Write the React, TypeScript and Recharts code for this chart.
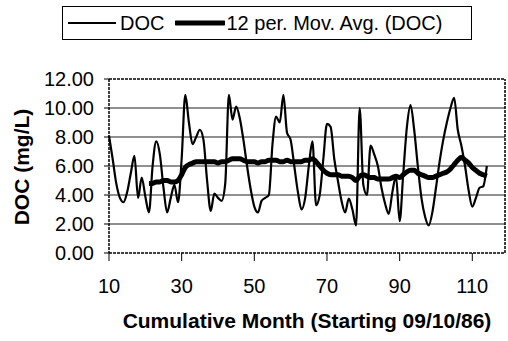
import { LineChart, Line, XAxis, YAxis, ReferenceLine, Legend } from "recharts";

const months = [
  10, 11, 12, 13, 14, 15, 16, 17, 18, 19,
  20, 21, 22, 23, 24, 25, 26, 27, 28, 29,
  30, 31, 32, 33, 34, 35, 36, 37, 38, 39,
  40, 41, 42, 43, 44, 45, 46, 47, 48, 49,
  50, 51, 52, 53, 54, 55, 56, 57, 58, 59,
  60, 61, 62, 63, 64, 65, 66, 67, 68, 69,
  70, 71, 72, 73, 74, 75, 76, 77, 78, 79,
  80, 81, 82, 83, 84, 85, 86, 87, 88, 89,
  90, 91, 92, 93, 94, 95, 96, 97, 98, 99,
  100, 101, 102, 103, 104, 105, 106, 107, 108, 109,
  110, 111, 112, 113, 114,
];

const doc = [
  8.1, 6.5, 4.8, 3.8, 3.5, 4.2, 5.5, 6.7, 3.8, 5.2,
  3.9, 2.8, 6.0, 7.7, 6.8, 4.5, 2.8, 3.8, 4.7, 3.5,
  6.5, 10.9, 9.0, 7.5, 8.0, 8.5, 7.8, 5.0, 2.9, 4.1,
  3.8, 3.6, 4.8, 10.9, 9.2, 10.1, 9.3, 7.8, 6.0, 4.4,
  3.2, 2.8, 3.6, 3.8, 4.0, 7.5, 9.4, 9.0, 10.9, 8.3,
  7.8, 6.0, 4.2, 3.0, 3.8, 6.0, 7.7, 3.3, 4.0, 6.5,
  8.9, 8.7, 6.5, 5.0, 3.6, 2.8, 3.75, 3.0, 1.9, 10.0,
  4.7, 4.0, 7.4, 6.8, 6.0, 4.5, 3.4, 2.7, 4.2, 5.3,
  2.2, 5.5, 8.7, 10.2, 8.5, 6.0, 3.8, 2.5, 1.9, 2.8,
  4.5, 6.3, 7.8, 9.0, 10.0, 10.7, 8.5, 7.4, 6.0, 4.3,
  3.2, 3.8, 4.5, 4.6, 6.0,
];

// 12 period moving average, nothing before month 21
const movAvg = [
  null, null, null, null, null, null, null, null, null, null,
  null, 4.8, 4.8, 4.9, 4.9, 5.0, 5.0, 4.9, 4.9, 5.0,
  5.4, 5.9, 6.1, 6.2, 6.3, 6.3, 6.3, 6.3, 6.3, 6.3,
  6.2, 6.3, 6.3, 6.4, 6.5, 6.5, 6.5, 6.4, 6.3, 6.3,
  6.3, 6.2, 6.3, 6.3, 6.4, 6.4, 6.4, 6.3, 6.3, 6.4,
  6.3, 6.3, 6.3, 6.3, 6.4, 6.4, 6.5, 6.3, 6.0, 5.7,
  5.5, 5.4, 5.4, 5.4, 5.3, 5.3, 5.3, 5.2, 5.0, 5.3,
  5.4, 5.3, 5.2, 5.2, 5.1, 5.1, 5.1, 5.1, 5.2, 5.3,
  5.2, 5.4, 5.6, 5.7, 5.7, 5.5, 5.4, 5.3, 5.2, 5.2,
  5.3, 5.4, 5.5, 5.6, 5.8, 6.1, 6.4, 6.6, 6.4, 6.2,
  5.9, 5.7, 5.5, 5.4, 5.3,
];

const xTicks = [10, 30, 50, 70, 90, 110];
const yTicks = [0, 2, 4, 6, 8, 10, 12];
const gridValues = [2, 4, 6, 8, 10];

const data = months.map((m, i) => ({ month: m, doc: doc[i], avg: movAvg[i] }));

const FONT = "'Liberation Sans', Arial, sans-serif";

const LegendBox = () => (
  <div
    style={{
      display: "flex",
      alignItems: "center",
      border: "1.5px solid #000",
      width: 410,
      height: 34,
      boxSizing: "border-box",
      fontFamily: FONT,
      fontSize: 20,
      color: "#000",
      paddingLeft: 5,
      background: "#fff",
    }}
  >
    <svg width={48} height={10}>
      <line x1={0} y1={5} x2={48} y2={5} stroke="#000" strokeWidth={2} />
    </svg>
    <span style={{ marginLeft: 4 }}>DOC</span>
    <svg width={50} height={10} style={{ marginLeft: 11 }}>
      <line x1={1} y1={5} x2={49} y2={5} stroke="#000" strokeWidth={5} strokeLinecap="round" />
    </svg>
    <span style={{ marginLeft: 1 }}>12 per. Mov. Avg. (DOC)</span>
  </div>
);

export default function App() {
  return (
    <div style={{ position: "absolute", left: 0, top: 0, width: 508, height: 341, background: "#fff" }}>
      <LineChart
        width={508}
        height={341}
        data={data}
        margin={{ top: 79, right: 3, bottom: 0, left: 0 }}
        style={{ fontFamily: FONT }}
      >
        {gridValues.map((v) => (
          <ReferenceLine key={v} y={v} stroke="#222" strokeWidth={1.2} />
        ))}
        <ReferenceLine y={12} stroke="#000" strokeWidth={1.5} strokeDasharray="3 1" />
        <ReferenceLine x={119} stroke="#000" strokeWidth={1.5} strokeDasharray="3 1" />
        <XAxis
          dataKey="month"
          type="number"
          domain={[10, 119]}
          ticks={xTicks}
          height={88}
          tickSize={8}
          tickMargin={18}
          tick={{ fill: "#000", fontSize: 20 }}
          axisLine={{ stroke: "#000", strokeWidth: 1.5, strokeDasharray: "3 1" }}
          tickLine={{ stroke: "#000" }}
          label={{
            value: "Cumulative Month (Starting 09/10/86)",
            position: "insideBottom",
            offset: 13,
            fill: "#000",
            fontSize: 21,
            fontWeight: "bold",
          }}
        />
        <YAxis
          type="number"
          domain={[0, 12]}
          ticks={yTicks}
          width={109}
          tickSize={5}
          tickMargin={10}
          tickFormatter={(v: number) => v.toFixed(2)}
          tick={{ fill: "#000", fontSize: 20 }}
          axisLine={{ stroke: "#000", strokeWidth: 1.5, strokeDasharray: "3 1" }}
          tickLine={{ stroke: "#000" }}
          label={{
            content: () => (
              <text
                x={21}
                y={167}
                transform="rotate(-90 21 167)"
                textAnchor="middle"
                dominantBaseline="central"
                fontSize={21}
                fontWeight="bold"
                fill="#000"
              >
                DOC (mg/L)
              </text>
            ),
          }}
        />
        <Legend
          layout="horizontal"
          verticalAlign="middle"
          align="center"
          wrapperStyle={{ top: 6, left: 62, width: "auto" }}
          content={() => <LegendBox />}
        />
        <Line
          type="monotone"
          dataKey="doc"
          stroke="#000"
          strokeWidth={2.2}
          dot={false}
          isAnimationActive={false}
        />
        <Line
          type="monotone"
          dataKey="avg"
          stroke="#000"
          strokeWidth={5}
          dot={false}
          connectNulls={false}
          isAnimationActive={false}
        />
      </LineChart>
    </div>
  );
}
